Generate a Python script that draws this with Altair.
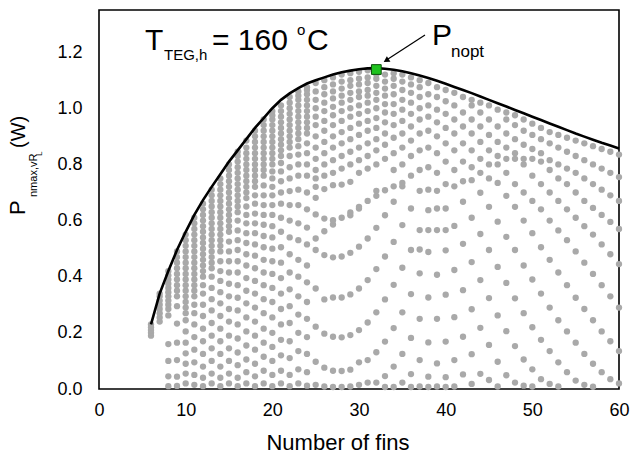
import altair as alt
import pandas as pd

# ---- envelope (black line) ----
N_LINE = list(range(6, 61))
P_LINE = [0.23, 0.34, 0.42, 0.495, 0.56, 0.62, 0.673, 0.72, 0.765, 0.81,
          0.85, 0.89, 0.93, 0.965, 1.0, 1.03, 1.053, 1.072, 1.088, 1.1,
          1.11, 1.12, 1.128, 1.134, 1.139, 1.142, 1.143, 1.141, 1.137, 1.132,
          1.125, 1.117, 1.108, 1.098, 1.087, 1.076, 1.065, 1.054, 1.042, 1.03,
          1.018, 1.006, 0.994, 0.982, 0.97, 0.958, 0.946, 0.934, 0.922, 0.91,
          0.899, 0.888, 0.877, 0.867, 0.857]

# ---- optimum point ----
N_OPT = [32]
P_OPT = [1.138]

# ---- grey dots: power values read per number of fins ----
P_N06 = [0.19, 0.20, 0.21, 0.22, 0.23]
P_N07 = [0.24, 0.255, 0.27, 0.285, 0.30, 0.315, 0.33, 0.34]
P_N08 = [0.01, 0.045, 0.10, 0.16, 0.262, 0.285, 0.30, 0.315, 0.33, 0.345, 0.36, 0.375, 0.39, 0.405, 0.42]
P_N09 = [0.011, 0.044, 0.103, 0.165, 0.233, 0.295, 0.33, 0.35, 0.37, 0.39, 0.41, 0.43, 0.45, 0.47, 0.49]
P_N10 = [0.02, 0.055, 0.09, 0.127, 0.165, 0.205, 0.245, 0.27, 0.29, 0.31, 0.33, 0.35, 0.37, 0.39,
         0.41, 0.43, 0.45, 0.47, 0.49, 0.51, 0.53, 0.55]
P_N11 = [0.015, 0.05, 0.095, 0.14, 0.185, 0.23, 0.27, 0.30, 0.33, 0.35, 0.37, 0.39, 0.41, 0.43,
         0.45, 0.47, 0.49, 0.51, 0.53, 0.55, 0.57, 0.59, 0.61]
P_N12 = [0.01, 0.04, 0.08, 0.125, 0.17, 0.215, 0.26, 0.30, 0.34, 0.37, 0.40, 0.42, 0.44, 0.46,
         0.48, 0.50, 0.52, 0.54, 0.56, 0.58, 0.60, 0.62, 0.64, 0.66]
P_N13 = [0.02, 0.055, 0.10, 0.145, 0.19, 0.235, 0.28, 0.32, 0.36, 0.40, 0.43, 0.45, 0.47, 0.49,
         0.51, 0.53, 0.55, 0.57, 0.59, 0.61, 0.63, 0.65, 0.67, 0.69, 0.71]
P_N14 = [0.01, 0.04, 0.08, 0.125, 0.17, 0.215, 0.26, 0.305, 0.345, 0.385, 0.42, 0.455, 0.49,
         0.51, 0.53, 0.55, 0.57, 0.59, 0.61, 0.63, 0.65, 0.67, 0.69, 0.71, 0.73, 0.75]
P_N15 = [0.02, 0.055, 0.10, 0.145, 0.19, 0.24, 0.285, 0.33, 0.375, 0.415, 0.455, 0.49, 0.525,
         0.56, 0.58, 0.60, 0.62, 0.64, 0.66, 0.68, 0.70, 0.72, 0.74, 0.76, 0.78, 0.80]
P_N16 = [0.01, 0.04, 0.085, 0.13, 0.18, 0.23, 0.28, 0.325, 0.37, 0.415, 0.455, 0.495, 0.53,
         0.565, 0.60, 0.63, 0.65, 0.67, 0.69, 0.71, 0.73, 0.75, 0.77, 0.79, 0.81, 0.83, 0.845]
P_N17 = [0.02, 0.06, 0.105, 0.155, 0.205, 0.255, 0.305, 0.35, 0.395, 0.44, 0.48, 0.52, 0.555,
         0.59, 0.62, 0.65, 0.68, 0.70, 0.72, 0.74, 0.76, 0.78, 0.80, 0.82, 0.84, 0.86, 0.885]
P_N18 = [0.01, 0.045, 0.09, 0.14, 0.19, 0.24, 0.29, 0.34, 0.385, 0.43, 0.475, 0.515, 0.555,
         0.59, 0.625, 0.66, 0.69, 0.72, 0.74, 0.76, 0.78, 0.80, 0.82, 0.84, 0.86, 0.88, 0.90, 0.92]
P_N19 = [0.02, 0.065, 0.115, 0.165, 0.215, 0.27, 0.32, 0.37, 0.415, 0.46, 0.505, 0.545, 0.585,
         0.62, 0.655, 0.69, 0.725, 0.76, 0.78, 0.80, 0.82, 0.84, 0.86, 0.88, 0.90, 0.92, 0.94, 0.96]
P_N20 = [0.01, 0.05, 0.10, 0.15, 0.20, 0.255, 0.31, 0.36, 0.41, 0.455, 0.50, 0.54, 0.58, 0.62,
         0.655, 0.69, 0.72, 0.75, 0.775, 0.80, 0.82, 0.84, 0.86, 0.88, 0.90, 0.92, 0.94, 0.96,
         0.975, 0.99]
P_N21 = [0.02, 0.065, 0.12, 0.175, 0.23, 0.285, 0.34, 0.395, 0.45, 0.505, 0.56, 0.61, 0.66,
         0.70, 0.74, 0.775, 0.805, 0.83, 0.85, 0.87, 0.89, 0.91, 0.93, 0.95, 0.97, 0.99, 1.01]
P_N22 = [0.01, 0.05, 0.11, 0.17, 0.235, 0.295, 0.355, 0.415, 0.48, 0.54, 0.60, 0.655, 0.705,
         0.75, 0.79, 0.83, 0.86, 0.88, 0.90, 0.92, 0.94, 0.96, 0.98, 1.0, 1.02, 1.04]
P_N23 = [0.02, 0.07, 0.135, 0.20, 0.265, 0.33, 0.40, 0.46, 0.53, 0.59, 0.655, 0.71, 0.76, 0.80,
         0.835, 0.865, 0.89, 0.91, 0.93, 0.95, 0.97, 0.99, 1.01, 1.03, 1.045, 1.06]
P_N24 = [0.012, 0.06, 0.125, 0.185, 0.25, 0.31, 0.38, 0.44, 0.515, 0.575, 0.64, 0.70, 0.76,
         0.80, 0.84, 0.875, 0.91, 0.93, 0.95, 0.97, 0.99, 1.01, 1.03, 1.05, 1.065, 1.075]
P_N25 = [0.015, 0.097, 0.222, 0.358, 0.495, 0.536, 0.622, 0.681, 0.72, 0.75, 0.78, 0.82, 0.86,
         0.90, 0.94, 0.97, 1.0, 1.03, 1.06, 1.09]
P_N26 = [0.009, 0.076, 0.197, 0.319, 0.477, 0.562, 0.607, 0.712, 0.76, 0.80, 0.84, 0.88, 0.92,
         0.955, 0.99, 1.02, 1.05, 1.075, 1.10]
P_N27 = [0.007, 0.065, 0.186, 0.326, 0.469, 0.586, 0.601, 0.726, 0.77, 0.815, 0.86, 0.90, 0.94,
         0.975, 1.005, 1.035, 1.06, 1.085, 1.11]
P_N28 = [0.007, 0.064, 0.184, 0.326, 0.472, 0.610, 0.728, 0.785, 0.83, 0.875, 0.915, 0.955,
         0.99, 1.02, 1.045, 1.07, 1.095, 1.12]
P_N29 = [0.009, 0.069, 0.192, 0.337, 0.485, 0.619, 0.629, 0.738, 0.80, 0.845, 0.89, 0.93, 0.97,
         1.0, 1.03, 1.055, 1.08, 1.10, 1.125]
P_N30 = [0.015, 0.095, 0.210, 0.358, 0.507, 0.643, 0.649, 0.77, 0.815, 0.86, 0.905, 0.945,
         0.98, 1.01, 1.04, 1.06, 1.085, 1.105, 1.13]
P_N31 = [0.023, 0.103, 0.237, 0.388, 0.536, 0.670, 0.785, 0.83, 0.875, 0.92, 0.955, 0.99,
         1.02, 1.045, 1.065, 1.09, 1.11, 1.135]
P_N32 = [0.023, 0.131, 0.273, 0.427, 0.574, 0.688, 0.706, 0.80, 0.85, 0.89, 0.93, 0.965, 1.0,
         1.03, 1.055, 1.08, 1.105, 1.12]
P_N33 = [0.007, 0.046, 0.169, 0.319, 0.472, 0.619, 0.708, 0.82, 0.87, 0.91, 0.95, 0.985,
         1.015, 1.045, 1.07, 1.095, 1.12]
P_N34 = [0.007, 0.080, 0.217, 0.371, 0.524, 0.667, 0.722, 0.78, 0.84, 0.895, 0.94, 0.98,
         1.015, 1.05, 1.08, 1.105, 1.125]
P_N35 = [0.023, 0.125, 0.273, 0.432, 0.584, 0.722, 0.734, 0.80, 0.86, 0.91, 0.955, 0.995,
         1.03, 1.065, 1.095, 1.12]
P_N36 = [0.007, 0.053, 0.182, 0.338, 0.495, 0.643, 0.76, 0.83, 0.885, 0.935, 0.98, 1.02,
         1.055, 1.085, 1.11]
P_N37 = [0.009, 0.103, 0.250, 0.412, 0.497, 0.566, 0.706, 0.78, 0.85, 0.91, 0.96, 1.0, 1.04,
         1.075, 1.10]
P_N38 = [0.007, 0.044, 0.166, 0.326, 0.488, 0.566, 0.637, 0.71, 0.79, 0.86, 0.92, 0.97, 1.01,
         1.05, 1.09]
P_N39 = [0.009, 0.091, 0.250, 0.407, 0.566, 0.643, 0.706, 0.77, 0.84, 0.90, 0.95, 0.995,
         1.04, 1.075]
P_N40 = [0.007, 0.042, 0.169, 0.336, 0.494, 0.566, 0.643, 0.73, 0.81, 0.875, 0.93, 0.98,
         1.025, 1.065]
P_N41 = [0.009, 0.103, 0.256, 0.424, 0.581, 0.722, 0.78, 0.85, 0.91, 0.96, 1.01, 1.055]
P_N42 = [0.052, 0.186, 0.352, 0.517, 0.667, 0.74, 0.81, 0.875, 0.935, 0.985, 1.04]
P_N43 = [0.018, 0.124, 0.284, 0.452, 0.610, 0.744, 0.79, 0.85, 0.91, 0.96, 1.01, 1.03]
P_N44 = [0.054, 0.218, 0.388, 0.552, 0.699, 0.77, 0.82, 0.88, 0.935, 0.985, 1.02]
P_N45 = [0.032, 0.157, 0.324, 0.495, 0.649, 0.75, 0.80, 0.85, 0.905, 0.96, 1.01]
P_N46 = [0.009, 0.097, 0.262, 0.435, 0.596, 0.734, 0.80, 0.83, 0.88, 0.935, 0.995]
P_N47 = [0.049, 0.206, 0.378, 0.542, 0.688, 0.77, 0.82, 0.86, 0.91, 0.96, 0.985]
P_N48 = [0.023, 0.153, 0.323, 0.495, 0.649, 0.73, 0.82, 0.84, 0.89, 0.94, 0.975]
P_N49 = [0.012, 0.105, 0.270, 0.44, 0.60, 0.70, 0.80, 0.82, 0.87, 0.92, 0.96]
P_N50 = [0.009, 0.07, 0.22, 0.39, 0.555, 0.67, 0.76, 0.82, 0.855, 0.905, 0.945]
P_N51 = [0.035, 0.175, 0.34, 0.505, 0.64, 0.73, 0.81, 0.84, 0.89, 0.93]
P_N52 = [0.018, 0.135, 0.29, 0.46, 0.60, 0.70, 0.78, 0.815, 0.875, 0.915]
P_N53 = [0.009, 0.095, 0.245, 0.415, 0.565, 0.67, 0.75, 0.80, 0.86, 0.905]
P_N54 = [0.06, 0.205, 0.37, 0.53, 0.64, 0.73, 0.785, 0.845, 0.895]
P_N55 = [0.03, 0.165, 0.325, 0.49, 0.61, 0.70, 0.77, 0.83, 0.885]
P_N56 = [0.015, 0.125, 0.285, 0.45, 0.58, 0.67, 0.75, 0.815, 0.875]
P_N57 = [0.008, 0.09, 0.245, 0.41, 0.55, 0.645, 0.73, 0.80, 0.865]
P_N58 = [0.06, 0.205, 0.37, 0.515, 0.62, 0.71, 0.785, 0.855]
P_N59 = [0.035, 0.17, 0.33, 0.48, 0.595, 0.69, 0.77, 0.845]
P_N60 = [0.02, 0.135, 0.29, 0.445, 0.57, 0.67, 0.755, 0.835]

DOT_COLUMNS = {
    6: P_N06, 7: P_N07, 8: P_N08, 9: P_N09, 10: P_N10, 11: P_N11, 12: P_N12,
    13: P_N13, 14: P_N14, 15: P_N15, 16: P_N16, 17: P_N17, 18: P_N18,
    19: P_N19, 20: P_N20, 21: P_N21, 22: P_N22, 23: P_N23, 24: P_N24,
    25: P_N25, 26: P_N26, 27: P_N27, 28: P_N28, 29: P_N29, 30: P_N30,
    31: P_N31, 32: P_N32, 33: P_N33, 34: P_N34, 35: P_N35, 36: P_N36,
    37: P_N37, 38: P_N38, 39: P_N39, 40: P_N40, 41: P_N41, 42: P_N42,
    43: P_N43, 44: P_N44, 45: P_N45, 46: P_N46, 47: P_N47, 48: P_N48,
    49: P_N49, 50: P_N50, 51: P_N51, 52: P_N52, 53: P_N53, 54: P_N54,
    55: P_N55, 56: P_N56, 57: P_N57, 58: P_N58, 59: P_N59, 60: P_N60,
}

X_MAJOR = [0, 10, 20, 30, 40, 50, 60]
Y_MAJOR = [0.0, 0.2, 0.4, 0.6, 0.8, 1.0, 1.2]

X_MIN, X_MAX = 0, 60
Y_MIN, Y_MAX = 0, 1.35
W, H = 520, 379

dots = pd.DataFrame([(n, p) for n, ps in DOT_COLUMNS.items() for p in ps], columns=["N", "P"])
env = pd.DataFrame({"N": N_LINE, "P": P_LINE})
opt = pd.DataFrame({"N": N_OPT, "P": P_OPT})
one = pd.DataFrame({"k": [0]})  # single row for annotation marks

xs = alt.Scale(domain=[X_MIN, X_MAX], nice=False, zero=False)
ys = alt.Scale(domain=[Y_MIN, Y_MAX], nice=False, zero=False)
FONT = "Liberation Sans"

label_x = alt.Axis(orient="bottom", values=X_MAJOR, ticks=False, tickSize=0, domain=False,
                   grid=False, labelPadding=12, labelFontSize=18, labelFont=FONT,
                   labelFontWeight="normal", labelFlush=False,
                   labelColor="black", title=None, labelBaseline="top")
label_y = alt.Axis(orient="left", values=Y_MAJOR, ticks=False, tickSize=0, domain=False,
                   grid=False, labelPadding=17, labelFontSize=18, labelFont=FONT,
                   labelFontWeight="normal", labelFlush=False,
                   labelColor="black", title=None, format=".1f", labelBaseline="middle")

dot_layer = alt.Chart(dots).mark_circle(size=40, color="#a9a9a9", opacity=1).encode(
    x=alt.X("N:Q", scale=xs, axis=label_x), y=alt.Y("P:Q", scale=ys, axis=label_y))

line_layer = alt.Chart(env).mark_line(color="black", strokeWidth=2.6).encode(
    x=alt.X("N:Q", scale=xs), y=alt.Y("P:Q", scale=ys))

opt_layer = alt.Chart(opt).mark_square(size=95, color="#1fc21f", stroke="#0b4f0b",
                                       strokeWidth=1, opacity=1).encode(
    x=alt.X("N:Q", scale=xs), y=alt.Y("P:Q", scale=ys))

OX, OY = 99, 10  # plot origin in page pixels


def txt(s, px, py, size, align="left", angle=0, baseline="alphabetic"):
    kw = dict(text=s, font=FONT, fontSize=size, fontWeight="normal", align=align,
              baseline=baseline, color="black")
    if angle:
        kw["angle"] = angle
    return alt.Chart(one).mark_text(**kw).encode(
        x=alt.value(px - OX), y=alt.value(py - OY))


texts = [
    txt("T", 145, 50, 30),
    txt("TEG,h", 164, 60, 15),
    txt("= 160", 212, 50, 30),
    txt("o", 297, 35, 15),
    txt("C", 307, 50, 30),
    txt("P", 432, 45, 30),
    txt("nopt", 451, 57, 17),
    txt("Number of fins", 338, 450, 22, align="center"),
    txt("P", 25, 215, 22, angle=270),
    txt("nmax,vR", 37, 197, 11, angle=270),
    txt("L", 42, 156, 8, angle=270),
    txt("(W)", 25, 148, 20, angle=270),
]

arrow_line = alt.Chart(one).mark_rule(color="black", strokeWidth=1.2).encode(
    x=alt.value(425 - OX), y=alt.value(35 - OY), x2=alt.value(388 - OX), y2=alt.value(59 - OY))
arrow_head = alt.Chart(one).mark_point(shape="triangle", filled=True, size=45, color="black",
                                       angle=238, opacity=1).encode(
    x=alt.value(387 - OX), y=alt.value(60 - OY))

chart = alt.layer(dot_layer, line_layer, opt_layer, arrow_line, arrow_head,
                  *texts).properties(
    width=W, height=H, autosize="none", background="white",
    padding={"left": 99, "top": 10, "right": 11, "bottom": 69},
).configure_view(stroke="black", strokeWidth=1.6)

chart.save("out.html", embed_options={"renderer": "svg", "actions": False})
